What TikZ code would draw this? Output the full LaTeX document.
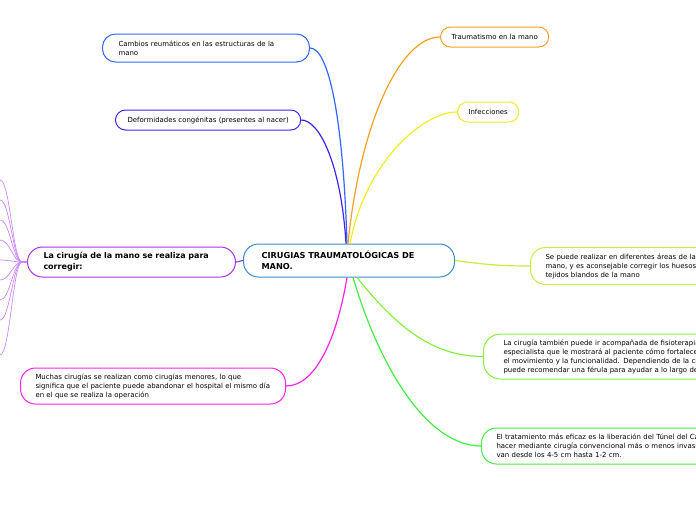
\documentclass[tikz,border=0pt]{standalone}
\usepackage{fontspec}
\setmainfont{DejaVu Sans}
\usetikzlibrary{positioning}

\definecolor{mainblue}{HTML}{3A8DCB}
\definecolor{cambioblue}{HTML}{3366FF}
\definecolor{deformblue}{HTML}{4422EE}
\definecolor{traumaorange}{HTML}{F5A020}
\definecolor{infecyellow}{HTML}{F2EE22}
\definecolor{limegreen}{HTML}{C4F040}
\definecolor{midgreen}{HTML}{88EE44}
\definecolor{brightgreen}{HTML}{44EE44}
\definecolor{magentapink}{HTML}{FF22EE}
\definecolor{corrpurple}{HTML}{AA33EE}
\definecolor{leafpurple}{HTML}{CC88FF}

\begin{document}
\begin{tikzpicture}[
  x=1pt, y=-1pt,
  every node/.style={font=\fontsize{6.95}{9}\selectfont},
  topic/.style={draw, line width=1pt, fill=white, rounded corners=10pt,
                align=left, anchor=west, inner xsep=15pt, inner ysep=3pt},
  hub/.style={topic, font=\bfseries\fontsize{8}{11}\selectfont, rounded corners=15pt},
  branch/.style={line width=1.2pt},
  leaf/.style={line width=0.7pt, draw=leafpurple},
]
\useasboundingbox (0,0) rectangle (696,520);
\fill[white] (0,0) rectangle (696,520);
\clip (0,0) rectangle (696,520);

% central topic
\node[hub, draw=mainblue, text width=175pt, inner xsep=18pt, minimum height=33pt,
      font=\bfseries\fontsize{8.2}{11}\selectfont] (main) at (243,260.5)
  {CIRUGIAS TRAUMATOLÓGICAS DE\\MANO.};

% upper left
\node[topic, draw=cambioblue, text width=175pt, inner xsep=16pt, minimum height=28pt, rounded corners=13pt] (cambios) at (102,48)
  {Cambios reumáticos en las estructuras de la\\mano};
\node[topic, draw=deformblue, inner xsep=12pt, minimum height=20pt] (deform) at (115,120)
  {Deformidades congénitas (presentes al nacer)};

% upper right
\node[topic, draw=traumaorange, inner xsep=11pt, minimum height=20pt] (trauma) at (440,37)
  {Traumatismo en la mano};
\node[topic, draw=infecyellow, inner xsep=11pt, minimum height=20pt] (infec) at (457,112)
  {Infecciones};

% right, running off the page
\node[topic, draw=limegreen, text width=260pt, minimum height=37pt, rounded corners=15pt] (sepuede) at (530,266)
  {Se puede realizar en diferentes áreas de la\\mano, y es aconsejable corregir los huesos\\tejidos blandos de la mano};
\node[topic, draw=midgreen, text width=260pt, inner xsep=20pt, minimum height=45pt, rounded corners=17pt] (tambien) at (483,356.5)
  {La cirugía también puede ir acompañada de fisioterapia\\especialista que le mostrará al paciente cómo fortalecer\\el movimiento y la funcionalidad. Dependiendo de la cirugía\\puede recomendar una férula para ayudar a lo largo de la};
\node[topic, draw=brightgreen, text width=260pt, minimum height=36pt, rounded corners=15pt] (tratam) at (481,446)
  {El tratamiento más eficaz es la liberación del Túnel del Carpo\\hacer mediante cirugía convencional más o menos invasiva\\van desde los 4-5 cm hasta 1-2 cm.};

% left
\node[topic, draw=magentapink, text width=235pt, minimum height=36pt, rounded corners=15pt] (muchas) at (20,386)
  {Muchas cirugías se realizan como cirugías menores, lo que\\significa que el paciente puede abandonar el hospital el mismo día\\en el que se realiza la operación};
\node[hub, draw=corrpurple, text width=176pt, inner xsep=16pt, minimum height=30pt] (corregir) at (27,262)
  {La cirugía de la mano se realiza para\\corregir:};

% branches
\draw[branch, cambioblue] ([xshift=-2pt]main.north) .. controls +(-4,-130) and +(18,0) .. (cambios.east);
\draw[branch, deformblue] ([xshift=-3pt]main.north) .. controls +(-5,-80) and +(18,0) .. (deform.east);
\draw[branch, traumaorange] ([xshift=-1pt]main.north) .. controls +(12,-120) and +(-40,0) .. (trauma.west);
\draw[branch, infecyellow] ([xshift=1pt]main.north) .. controls +(15,-80) and +(-35,0) .. (infec.west);
\draw[branch, limegreen] (main.east) .. controls +(30,4) and +(-30,0) .. (sepuede.west);
\draw[branch, midgreen] ([xshift=8pt]main.south) .. controls +(40,50) and +(-50,0) .. (tambien.west);
\draw[branch, brightgreen] ([xshift=4pt]main.south) .. controls +(30,100) and +(-50,0) .. (tratam.west);
\draw[branch, magentapink] ([xshift=-2pt]main.south) .. controls +(-10,60) and +(30,0) .. (muchas.east);
\draw[branch, corrpurple] (main.west) -- (corregir.east);

% sub-branches leaving the page
\foreach \y [count=\i] in {180,200,220,240,260,280,300,320,355} {
  \coordinate (leaf\i) at (0,\y);
  \draw[leaf] (corregir.west) -- ++(-5,0) .. controls +(-9,0) and +(10,0) .. (leaf\i);
}
\end{tikzpicture}
\end{document}
